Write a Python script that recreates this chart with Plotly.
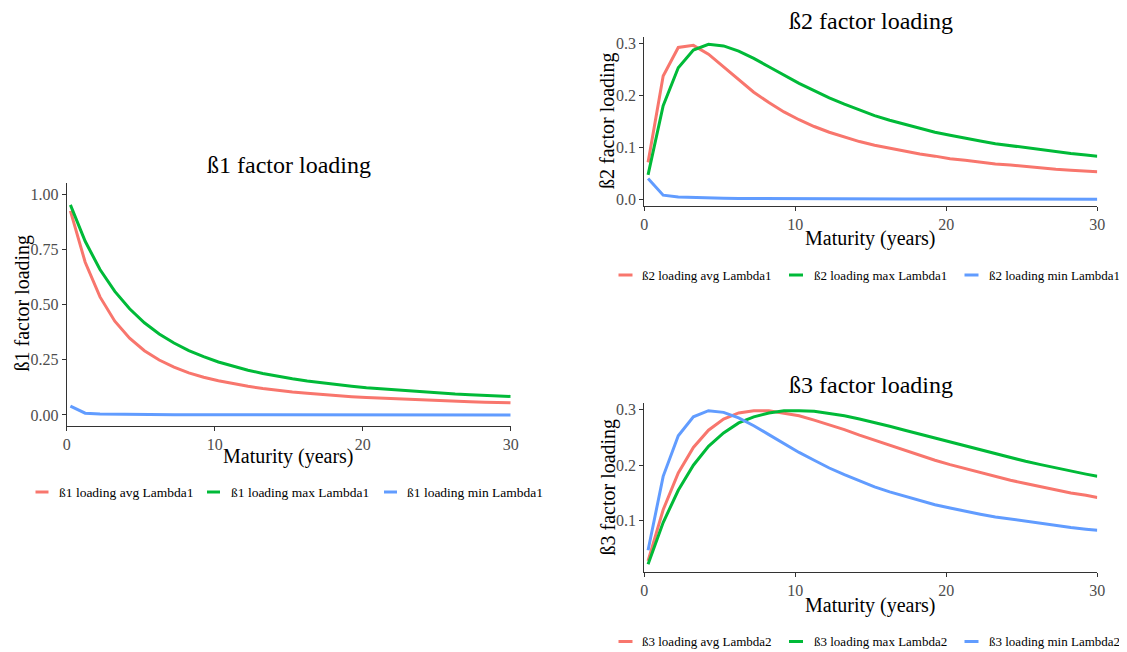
import plotly.graph_objects as go

W, H = 1127, 652
OFF = 8  # default page body margin in the browser
FW, FH = W - OFF, H - OFF

maturity = [0.25, 1.25, 2.25, 3.25, 4.25, 5.25, 6.25, 7.25, 8.25, 9.25, 10.25, 11.25,
            12.25, 13.25, 14.25, 15.25, 16.25, 17.25, 18.25, 19.25, 20.25, 21.25,
            22.25, 23.25, 24.25, 25.25, 26.25, 27.25, 28.25, 29.25, 30]

b1_avg = [0.925, 0.692, 0.535, 0.425, 0.348, 0.291, 0.249, 0.217, 0.191, 0.171, 0.155,
          0.141, 0.130, 0.120, 0.111, 0.104, 0.098, 0.092, 0.087, 0.083, 0.079, 0.076,
          0.072, 0.069, 0.067, 0.064, 0.062, 0.060, 0.058, 0.056, 0.055]
b1_max = [0.952, 0.787, 0.659, 0.560, 0.481, 0.418, 0.367, 0.326, 0.292, 0.264, 0.240,
          0.220, 0.203, 0.188, 0.175, 0.164, 0.154, 0.145, 0.137, 0.130, 0.123, 0.118,
          0.112, 0.108, 0.103, 0.099, 0.095, 0.092, 0.089, 0.086, 0.084]
b1_min = [0.040, 0.008, 0.0044, 0.0031, 0.0024, 0.0019, 0.0016, 0.0014, 0.0012, 0.0011,
          0.0010, 0.0009, 0.0008, 0.0008, 0.0007, 0.0007, 0.0006, 0.0006, 0.0005, 0.0005,
          0.0005, 0.0005, 0.0004, 0.0004, 0.0004, 0.0004, 0.0004, 0.0004, 0.0004, 0.0003,
          0.0003]

b2_avg = [0.071, 0.237, 0.292, 0.296, 0.279, 0.255, 0.230, 0.206, 0.186, 0.168, 0.153,
          0.140, 0.129, 0.120, 0.111, 0.104, 0.098, 0.092, 0.087, 0.083, 0.078, 0.075,
          0.071, 0.068, 0.066, 0.063, 0.061, 0.058, 0.056, 0.054, 0.053]
b2_max = [0.047, 0.180, 0.253, 0.287, 0.298, 0.295, 0.285, 0.271, 0.255, 0.239, 0.223,
          0.209, 0.195, 0.183, 0.172, 0.161, 0.152, 0.144, 0.136, 0.129, 0.123, 0.117,
          0.112, 0.107, 0.103, 0.099, 0.095, 0.092, 0.088, 0.085, 0.083]
b2_min = [0.040, 0.008, 0.0044, 0.0031, 0.0024, 0.0019, 0.0016, 0.0014, 0.0012, 0.0011,
          0.0010, 0.0009, 0.0008, 0.0008, 0.0007, 0.0007, 0.0006, 0.0006, 0.0005, 0.0005,
          0.0005, 0.0005, 0.0004, 0.0004, 0.0004, 0.0004, 0.0004, 0.0004, 0.0004, 0.0003,
          0.0003]

b3_avg = [0.028, 0.120, 0.186, 0.232, 0.263, 0.283, 0.294, 0.298, 0.298, 0.294, 0.289,
          0.281, 0.273, 0.264, 0.254, 0.245, 0.235, 0.226, 0.218, 0.209, 0.201, 0.194,
          0.186, 0.179, 0.173, 0.167, 0.161, 0.156, 0.150, 0.146, 0.142]
b3_max = [0.022, 0.097, 0.155, 0.200, 0.234, 0.258, 0.276, 0.287, 0.294, 0.298, 0.298,
          0.297, 0.293, 0.289, 0.283, 0.277, 0.270, 0.263, 0.256, 0.248, 0.241, 0.234,
          0.227, 0.220, 0.214, 0.207, 0.201, 0.195, 0.189, 0.184, 0.180]
b3_min = [0.047, 0.180, 0.253, 0.287, 0.298, 0.295, 0.285, 0.271, 0.255, 0.239, 0.223,
          0.209, 0.195, 0.183, 0.172, 0.161, 0.152, 0.144, 0.136, 0.129, 0.123, 0.117,
          0.112, 0.107, 0.103, 0.099, 0.095, 0.092, 0.088, 0.085, 0.083]

panels = [
    {"ax": "", "title": "ß1 factor loading", "ytitle": "ß1 factor loading",
     "series": [("ß1 loading avg Lambda1", b1_avg), ("ß1 loading max Lambda1", b1_max),
                ("ß1 loading min Lambda1", b1_min)]},
    {"ax": "2", "title": "ß2 factor loading", "ytitle": "ß2 factor loading",
     "series": [("ß2 loading avg Lambda1", b2_avg), ("ß2 loading max Lambda1", b2_max),
                ("ß2 loading min Lambda1", b2_min)]},
    {"ax": "3", "title": "ß3 factor loading", "ytitle": "ß3 factor loading",
     "series": [("ß3 loading avg Lambda2", b3_avg), ("ß3 loading max Lambda2", b3_max),
                ("ß3 loading min Lambda2", b3_min)]},
]

colors = ["#F8766D", "#00BA38", "#619CFF"]
FONT = "Liberation Serif, Times New Roman, serif"

def px(x):
    return (x - OFF) / FW

def py(y):
    return 1 - (y - OFF) / FH

# layout in page pixels
boxes = [(66.7, 510.7, 182.7, 426.0), (644.3, 1097.3, 36.7, 205.7), (644.3, 1097.3, 402.7, 572.0)]
yranges = [[-0.050, 1.0526], [-0.0123, 0.3127], [0.0080, 0.3124]]
ytickvals = [[0, 0.25, 0.5, 0.75, 1.0], [0, 0.1, 0.2, 0.3], [0.1, 0.2, 0.3]]
yfmt = [".2f", ".1f", ".1f"]
title_y = [165, 21, 385]
xtitle_y = [456.5, 238, 605]
ytitle_pos = [(21.5, 303), (608, 121), (608, 487.5)]
legend_y = [492, 275, 641.5]
legend_fs = [13.5, 13.0, 13.0]
legend_x = [[(35.5, 48.5, 56.5), (207, 220, 228.5), (384, 397, 405)],
            [(618.5, 632.5, 639.5), (789, 803, 811.5), (964.5, 978.5, 986.5)],
            [(618.5, 632.5, 639.5), (789, 803, 811.5), (964.5, 978.5, 986.5)]]

fig = go.Figure()
layout = {}
annotations = []
shapes = []

for i, p in enumerate(panels):
    xa = "x" + p["ax"]
    ya = "y" + p["ax"]
    for (name, vals), c in zip(p["series"], colors):
        fig.add_trace(go.Scatter(x=maturity, y=vals, mode="lines", name=name,
                                 line=dict(color=c, width=3),
                                 xaxis=xa, yaxis=ya, showlegend=False))
    l, r, t, b = boxes[i]
    axis_common = dict(showline=True, linecolor="#333333", linewidth=1.2, showgrid=False,
                       zeroline=False, ticks="outside", ticklen=4, tickcolor="#333333",
                       tickwidth=1.2,
                       tickfont=dict(family=FONT, size=16, color="#4D4D4D"), mirror=False)
    layout["xaxis" + p["ax"]] = dict(domain=[px(l), px(r)], range=[0, 30],
                                     tickvals=[0, 10, 20, 30], anchor=ya, **axis_common)
    layout["yaxis" + p["ax"]] = dict(domain=[py(b), py(t)], range=yranges[i],
                                     tickvals=ytickvals[i], tickformat=yfmt[i], anchor=xa,
                                     **axis_common)
    cx = (l + r) / 2
    annotations.append(dict(text=p["title"], x=px(cx), y=py(title_y[i]), xref="paper",
                            yref="paper", showarrow=False, xanchor="center", yanchor="middle",
                            borderpad=0,
                            font=dict(family=FONT, size=24, color="black")))
    annotations.append(dict(text="Maturity (years)", x=px(cx), y=py(xtitle_y[i]),
                            xref="paper", yref="paper", showarrow=False, xanchor="center",
                            yanchor="middle", font=dict(family=FONT, size=20, color="black")))
    yx, yy = ytitle_pos[i]
    annotations.append(dict(text=p["ytitle"], x=px(yx), y=py(yy),
                            xref="paper", yref="paper", showarrow=False, xanchor="center",
                            yanchor="middle", textangle=-90,
                            font=dict(family=FONT, size=20, color="black")))
    # legend entries
    for (name, _), c, (x1, x2, xt) in zip(p["series"], colors, legend_x[i]):
        shapes.append(dict(type="line", xref="paper", yref="paper", x0=px(x1), x1=px(x2),
                           y0=py(legend_y[i]), y1=py(legend_y[i]),
                           line=dict(color=c, width=3)))
        annotations.append(dict(text=name, x=px(xt), y=py(legend_y[i]), xref="paper",
                                yref="paper", showarrow=False, xanchor="left",
                                yanchor="middle",
                                font=dict(family=FONT, size=legend_fs[i], color="black")))

fig.update_layout(width=FW, height=FH, autosize=False,
                  margin=dict(l=0, r=0, t=0, b=0, pad=0, autoexpand=False),
                  paper_bgcolor="white", plot_bgcolor="white", showlegend=False,
                  annotations=annotations, shapes=shapes, **layout)

fig.write_html("out.html")
